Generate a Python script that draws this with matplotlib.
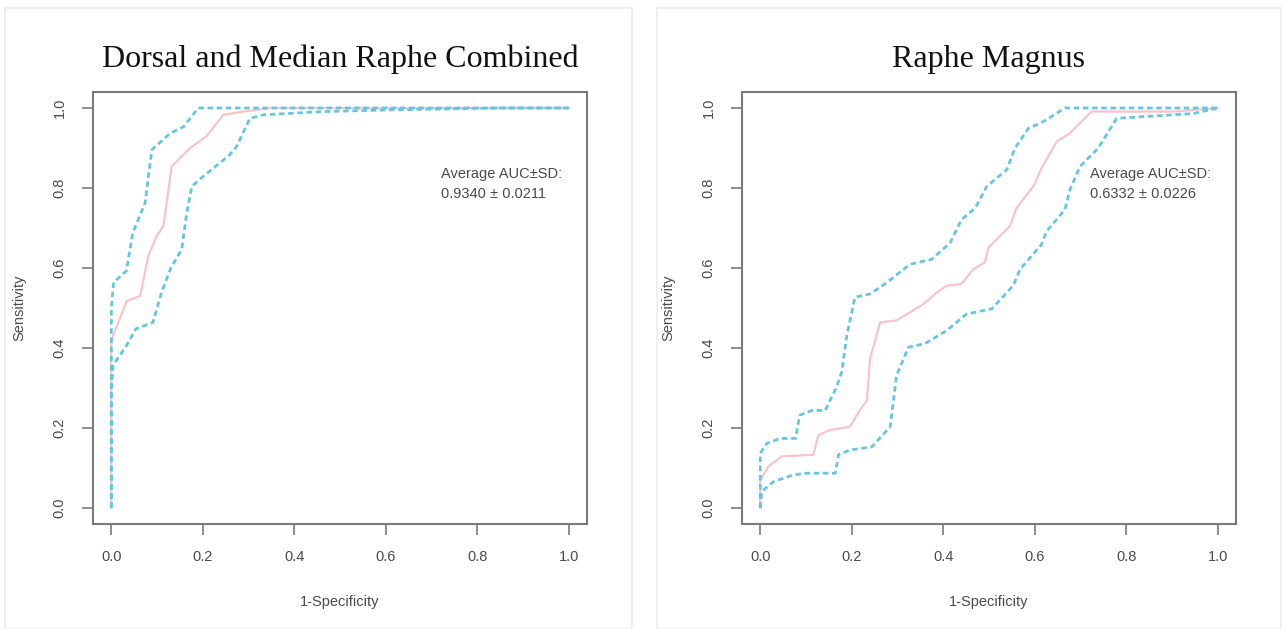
import matplotlib
matplotlib.use("Agg")
import matplotlib.pyplot as plt
from matplotlib.patches import Rectangle

plt.rcParams['font.family'] = ['Liberation Sans', 'DejaVu Sans']

# Dorsal and Median Raphe Combined
dm_upper_x = [0.0, 0.0, 0.005, 0.033, 0.047, 0.074, 0.081, 0.089, 0.129, 0.158, 0.190, 1.0]
dm_upper_y = [0.0, 0.497, 0.564, 0.593, 0.688, 0.763, 0.829, 0.896, 0.937, 0.953, 1.0, 1.0]
dm_mean_x = [0.0, 0.0, 0.004, 0.034, 0.063, 0.081, 0.099, 0.114, 0.132, 0.172, 0.208, 0.245,
             0.288, 0.317, 0.35, 1.0]
dm_mean_y = [0.0, 0.41, 0.431, 0.518, 0.530, 0.630, 0.680, 0.705, 0.854, 0.900, 0.929, 0.983,
             0.991, 0.995, 1.0, 1.0]
dm_lower_x = [0.0, 0.0, 0.004, 0.033, 0.054, 0.091, 0.110, 0.129, 0.154, 0.165, 0.176, 0.201,
              0.259, 0.274, 0.303, 0.332, 0.463, 0.6, 0.85, 1.0]
dm_lower_y = [0.0, 0.30, 0.357, 0.406, 0.448, 0.464, 0.539, 0.597, 0.647, 0.738, 0.804, 0.829,
              0.883, 0.904, 0.974, 0.983, 0.991, 0.995, 1.0, 1.0]

# Raphe Magnus
rm_upper_x = [0.0, 0.0, 0.015, 0.044, 0.077, 0.086, 0.113, 0.142, 0.167, 0.178, 0.189, 0.207,
              0.240, 0.277, 0.327, 0.375, 0.415, 0.440, 0.470, 0.495, 0.539, 0.557, 0.586,
              0.619, 0.666, 1.0]
rm_upper_y = [0.0, 0.137, 0.162, 0.174, 0.174, 0.232, 0.244, 0.244, 0.303, 0.340, 0.431, 0.527,
              0.535, 0.564, 0.609, 0.622, 0.663, 0.721, 0.750, 0.804, 0.846, 0.900, 0.949,
              0.966, 1.0, 1.0]
rm_mean_x = [0.0, 0.0, 0.018, 0.047, 0.116, 0.127, 0.152, 0.196, 0.215, 0.233, 0.240, 0.262,
             0.298, 0.357, 0.386, 0.408, 0.440, 0.466, 0.491, 0.499, 0.546, 0.560, 0.597,
             0.615, 0.648, 0.677, 0.724, 0.757, 0.903, 1.0]
rm_mean_y = [0.0, 0.07, 0.104, 0.129, 0.133, 0.182, 0.195, 0.203, 0.240, 0.269, 0.373, 0.464,
             0.469, 0.510, 0.539, 0.556, 0.560, 0.597, 0.614, 0.651, 0.705, 0.750, 0.804,
             0.850, 0.916, 0.937, 0.991, 0.991, 0.991, 1.0]
rm_lower_x = [0.0, 0.003, 0.029, 0.073, 0.102, 0.164, 0.171, 0.196, 0.244, 0.284, 0.298, 0.324,
              0.360, 0.408, 0.451, 0.506, 0.553, 0.568, 0.615, 0.626, 0.666, 0.677, 0.699,
              0.739, 0.779, 0.830, 0.946, 1.0]
rm_lower_y = [0.0, 0.041, 0.066, 0.083, 0.087, 0.087, 0.133, 0.145, 0.153, 0.203, 0.332, 0.402,
              0.411, 0.444, 0.485, 0.498, 0.556, 0.597, 0.659, 0.692, 0.746, 0.796, 0.854,
              0.900, 0.974, 0.978, 0.986, 1.0]

panels = [
    ("Dorsal and Median Raphe Combined", "0.9340 \u00b1 0.0211",
     (dm_upper_x, dm_upper_y), (dm_mean_x, dm_mean_y), (dm_lower_x, dm_lower_y)),
    ("Raphe Magnus", "0.6332 \u00b1 0.0226",
     (rm_upper_x, rm_upper_y), (rm_mean_x, rm_mean_y), (rm_lower_x, rm_lower_y)),
]

ticks = [0.0, 0.2, 0.4, 0.6, 0.8, 1.0]
tick_labels = ["0.0", "0.2", "0.4", "0.6", "0.8", "1.0"]

pink = "#f7c4cc"
blue = "#66c6e2"
grey = "#7a7a7a"
text_col = "#4a4a4a"

fig = plt.figure(figsize=(12.85, 6.29), dpi=100)

# faint panel frames
for x0, w in [(5 / 1285, 627 / 1285), (657 / 1285, 624 / 1285)]:
    fig.patches.append(Rectangle((x0, 0), w, 1 - 8 / 629, transform=fig.transFigure,
                                 fill=False, edgecolor="#ececec", linewidth=1.2))

lefts = [93 / 1285, 742 / 1285]
for left, (title, auc, up, mean, low) in zip(lefts, panels):
    ax = fig.add_axes([left, 1 - 524 / 629, 494 / 1285, 432 / 629])
    ax.plot(mean[0], mean[1], color=pink, linewidth=1.6)
    ax.plot(up[0], up[1], color=blue, linewidth=2.0, linestyle=(0, (2.0, 1.3)))
    ax.plot(low[0], low[1], color=blue, linewidth=2.0, linestyle=(0, (2.0, 1.3)))
    ax.set_xlim(-0.04, 1.04)
    ax.set_ylim(-0.04, 1.04)
    ax.set_xticks(ticks)
    ax.set_xticklabels(tick_labels)
    ax.set_yticks(ticks)
    ax.set_yticklabels(tick_labels, rotation=90, va="center")
    ax.tick_params(direction="out", length=8, width=1.2, color=grey, labelcolor=text_col,
                   labelsize=10.5, pad=11)
    for s in ax.spines.values():
        s.set_color(grey)
        s.set_linewidth(1.5)
    ax.set_xlabel("1-Specificity", fontsize=10.5, color=text_col, labelpad=22)
    ax.set_ylabel("Sensitivity", fontsize=10.5, color=text_col, labelpad=19)
    ax.set_title(title, fontsize=23, family="Liberation Serif", color="#111111", pad=18)
    ax.text(0.72, 0.81, "Average AUC\u00b1SD:\n" + auc, fontsize=10.5, color=text_col,
            va="center", ha="left", linespacing=1.5)

fig.savefig("out.png", dpi=100)
